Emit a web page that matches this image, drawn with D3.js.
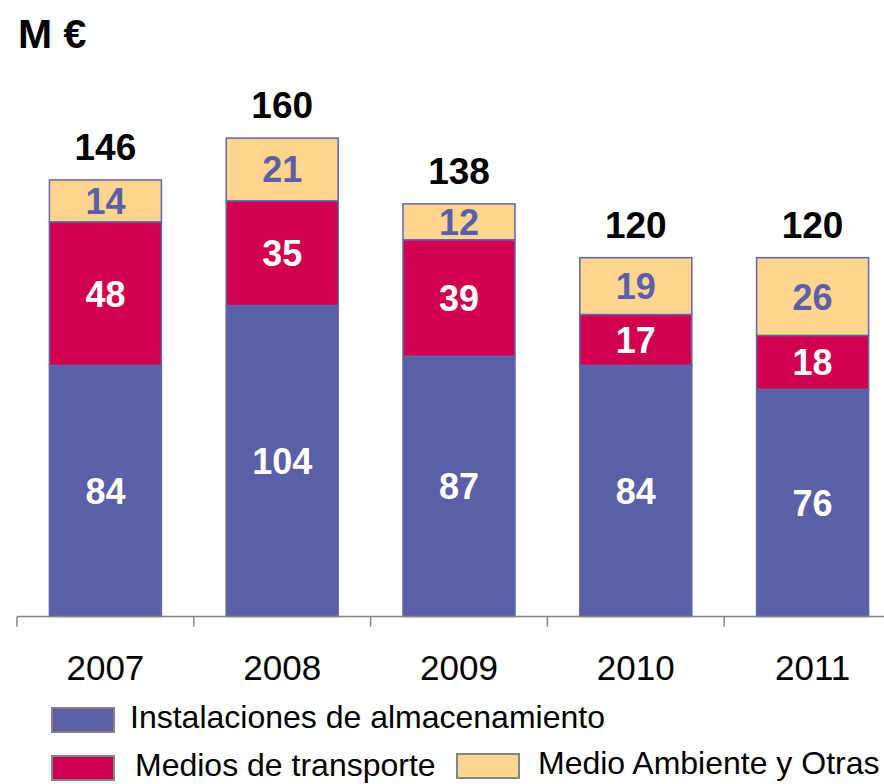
<!DOCTYPE html>
<html>
<head>
<meta charset="utf-8">
<script src="https://cdn.jsdelivr.net/npm/d3@7"></script>
<style>
  body { margin: 0; background: #fff; }
  svg { display: block; font-family: "Liberation Sans", Arial, sans-serif; }
</style>
</head>
<body>
<svg id="chart" width="884" height="784"></svg>
<script>
const years = ["2007", "2008", "2009", "2010", "2011"];
const almacenamiento = [84, 104, 87, 84, 76];
const transporte = [48, 35, 39, 17, 18];
const medioAmbiente = [14, 21, 12, 19, 26];
const seriesNames = ["Instalaciones de almacenamiento", "Medios de transporte", "Medio Ambiente y Otras"];
const colors = ["#5a5fa8", "#d1004f", "#fdd58f"];
const labelColors = ["#fff", "#fff", "#5a5fa8"];

const AXIS_Y = 616.5;
const BAR_W = 112;

let svg = d3.select('#chart');

let rows = years.map((y, i) => ({
  year: y,
  almacenamiento: almacenamiento[i],
  transporte: transporte[i],
  medioAmbiente: medioAmbiente[i]
}));
let keys = ["almacenamiento", "transporte", "medioAmbiente"];
let stacked = d3.stack().keys(keys)(rows);

let x = d3.scaleBand().domain(years).range([17, 901]).padding(0);
let yS = d3.scaleLinear().domain([0, 160]).range([AXIS_Y, AXIS_Y - 160 * 2.99]);

// title
svg.append('text').attr('x', 18).attr('y', 48)
  .attr('font-size', 41).attr('font-weight', 'bold').text('M €');

// bars
let groups = svg.selectAll('g.layer').data(stacked).enter()
  .append('g').attr('class', 'layer');
groups.selectAll('rect').data((d, i) => d.map(p => ({p, i}))).enter()
  .append('rect')
  .attr('x', d => x(d.p.data.year) + (x.bandwidth() - BAR_W) / 2)
  .attr('y', d => yS(d.p[1]))
  .attr('width', BAR_W)
  .attr('height', d => yS(d.p[0]) - yS(d.p[1]))
  .attr('fill', d => colors[d.i])
  .attr('stroke', '#6165ad')
  .attr('stroke-width', 1.5);

// segment labels
groups.selectAll('text').data((d, i) => d.map(p => ({p, i}))).enter()
  .append('text')
  .attr('x', d => x(d.p.data.year) + x.bandwidth() / 2)
  .attr('y', d => (yS(d.p[0]) + yS(d.p[1])) / 2 + 13)
  .attr('text-anchor', 'middle')
  .attr('font-size', 36).attr('font-weight', 'bold')
  .attr('fill', d => labelColors[d.i])
  .text(d => d.p[1] - d.p[0]);

// totals
let topLayer = stacked[stacked.length - 1];
svg.selectAll('text.total').data(topLayer).enter()
  .append('text').attr('class', 'total')
  .attr('x', d => x(d.data.year) + x.bandwidth() / 2)
  .attr('y', d => yS(d[1]) - 20)
  .attr('text-anchor', 'middle')
  .attr('font-size', 37).attr('font-weight', 'bold')
  .attr('fill', '#000')
  .text(d => d[1]);

// axis
let axis = d3.axisBottom(x).tickSize(0).tickPadding(0);
let ax = svg.append('g').attr('transform', `translate(0,${AXIS_Y})`).call(axis);
ax.select('.domain').remove();
ax.selectAll('.tick text').attr('y', 63).attr('dy', 0)
  .attr('font-size', 35).attr('fill', '#000')
  .style('font-family', '"Liberation Sans", Arial, sans-serif');
svg.append('line').attr('x1', 17).attr('x2', 884)
  .attr('y1', AXIS_Y).attr('y2', AXIS_Y)
  .attr('stroke', '#858585').attr('stroke-width', 1.5);
svg.selectAll('line.sep').data(years).enter()
  .append('line').attr('class', 'sep')
  .attr('x1', d => x(d)).attr('x2', d => x(d))
  .attr('y1', AXIS_Y).attr('y2', AXIS_Y + 10)
  .attr('stroke', '#858585').attr('stroke-width', 1.5);

// legend
const legendPos = [[52, 708], [52, 756], [457, 754]];
let leg = svg.selectAll('g.legend').data(seriesNames).enter()
  .append('g').attr('class', 'legend')
  .attr('transform', (d, i) => `translate(${legendPos[i][0]},${legendPos[i][1]})`);
leg.append('rect').attr('width', 62).attr('height', 24)
  .attr('fill', (d, i) => colors[i])
  .attr('stroke', '#858585').attr('stroke-width', 2);
leg.append('text').attr('x', (d, i) => i === 0 ? 78 : (i === 1 ? 83 : 81)).attr('y', 20)
  .attr('font-size', 32).attr('fill', '#000')
  .text(d => d);
</script>
</body>
</html>
